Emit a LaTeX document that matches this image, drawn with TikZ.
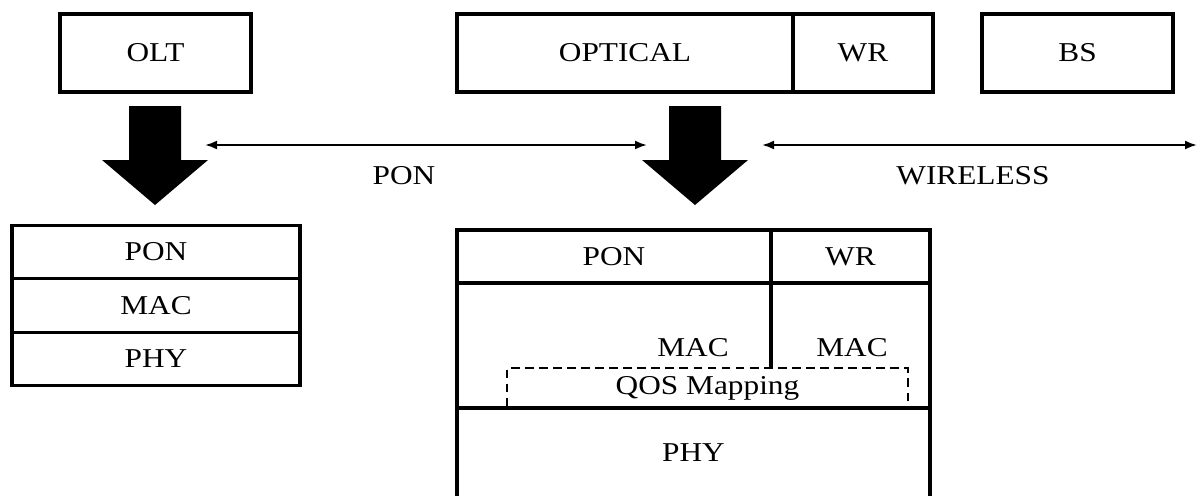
\documentclass[tikz,border=0pt]{standalone}
\usepackage{fontspec}
\setmainfont{Liberation Serif}[FakeStretch=1.15]
\usetikzlibrary{positioning, arrows.meta}

\tikzset{
  layer/.style={rectangle, draw, line width=1.9pt, inner sep=0pt, outer sep=0pt, font=\fontsize{15.5}{18}\selectfont},
  qosbox/.style={rectangle, draw, dashed, dash pattern=on 5pt off 3pt, line width=1.6pt, inner sep=0pt, outer sep=0pt, font=\fontsize{15.5}{18}\selectfont},
  txt/.style={inner sep=0pt, font=\fontsize{15.5}{18}\selectfont},
  link/.style={{Latex[length=2.4mm,width=1.8mm]}-{Latex[length=2.4mm,width=1.8mm]}, line width=1.2pt}
}

\begin{document}
\begin{tikzpicture}[x=0.02cm, y=-0.02cm]
        \useasboundingbox (0,0) rectangle (1200,495);

        % top row
        \node[layer, minimum width=3.82cm, minimum height=1.56cm] (olt) at (155.5,53) {OLT};
        \node[layer, minimum width=6.72cm, minimum height=1.56cm] (optical) at (625,53) {OPTICAL};
        \node[layer, minimum width=2.8cm, minimum height=1.56cm] (wr1) [right = 0pt of optical] {WR};
        \node[layer, minimum width=3.82cm, minimum height=1.56cm] (bs) at (1077.5,53) {BS};

        % big arrows
        \foreach \c in {155,695}
          \fill (\c-26,106) -- (\c+26,106) -- (\c+26,160) -- (\c+53,160) -- (\c,205) -- (\c-53,160) -- (\c-26,160) -- cycle;

        \coordinate (ponL) at (205,145);
        \coordinate (ponR) at (647,145);
        \coordinate (wlL) at (762,145);
        \coordinate (wlR) at (1197,145);
        \draw[link] (ponL) -- (ponR);
        \draw[link] (wlL) -- (wlR);
        \node[txt] (ponlbl) at (404,176) {PON};
        \node[txt] (wllbl) at (973,176) {WIRELESS};

        % OLT stack
        \node[layer, minimum width=5.76cm, minimum height=1.07cm] (pon1) at (156,252) {PON};
        \node[layer, minimum width=5.76cm, minimum height=1.07cm] (mac1) [below = 0pt of pon1] {MAC};
        \node[layer, minimum width=5.76cm, minimum height=1.07cm] (phy1) [below = 0pt of mac1] {PHY};

        % ONU stack
        \node[layer, minimum width=6.28cm, minimum height=1.06cm] (pon2) at (614,256.5) {PON};
        \node[layer, minimum width=3.18cm, minimum height=1.06cm] (wr2) [right = 0pt of pon2] {WR};
        \node[layer, minimum width=9.46cm, minimum height=2.5cm] (macbox) at (693.5,345.5) {};
        \node[layer, minimum width=9.46cm, minimum height=1.8cm] (phy2) at (693.5,453) {PHY};
        \node[qosbox, minimum width=8.02cm, minimum height=0.8cm] (qos) at (707.5,388) {QOS Mapping};
        \draw[line width=1.9pt] (wr2.south west) -- (wr2.south west |- qos.north);
        \node[txt] (mac2) at (693,348) {MAC};
        \node[txt] (mac3) at (852,348) {MAC};
      \end{tikzpicture}
\end{document}
